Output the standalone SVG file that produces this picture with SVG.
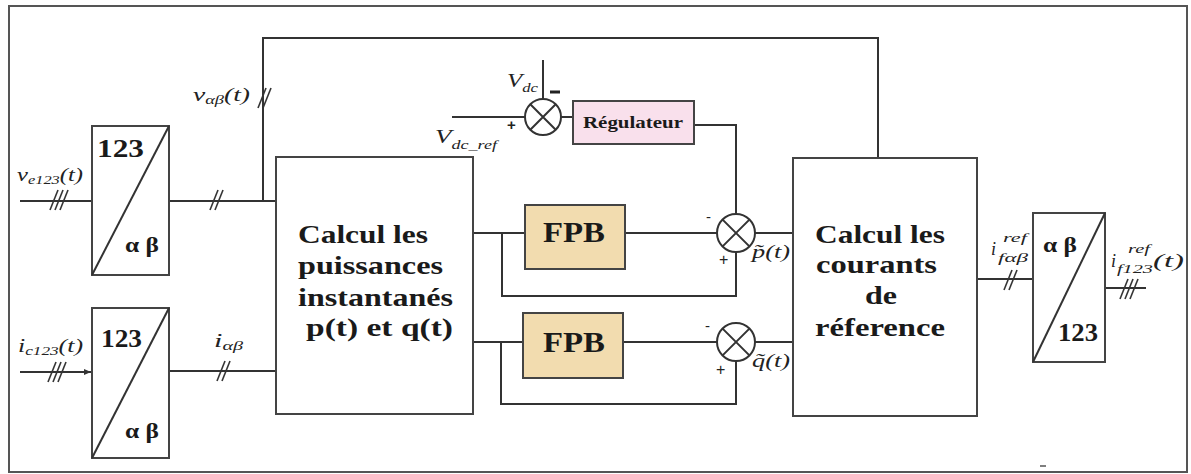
<svg xmlns="http://www.w3.org/2000/svg" width="1191" height="474" viewBox="0 0 1191 474">
<style>
.ln{fill:none;stroke:#333;stroke-width:2}
.bx{fill:#fff;stroke:#444;stroke-width:2}
.b{font-family:"Liberation Serif",serif;font-weight:bold;fill:#1a1a1a}
.m{font-family:"Liberation Serif",serif;font-style:italic;fill:#222;font-size:18px}
.s{font-size:12px}
.sg{font-family:"Liberation Sans",sans-serif;fill:#222}
</style>
<defs>
<g id="s3" stroke="#333" stroke-width="1.6"><line x1="-9" y1="10" x2="-1" y2="-10"/><line x1="-4" y1="10" x2="4" y2="-10"/><line x1="1" y1="10" x2="9" y2="-10"/></g>
<g id="s2" stroke="#333" stroke-width="1.6"><line x1="-7" y1="10" x2="1" y2="-10"/><line x1="-2" y1="10" x2="6" y2="-10"/></g>
<marker id="ar" markerWidth="8" markerHeight="8" refX="7" refY="4" orient="auto" markerUnits="userSpaceOnUse"><path d="M0,1 L7,4 L0,7 z" fill="#333"/></marker>
</defs>
<rect x="9" y="6" width="1178" height="466" fill="#fff" stroke="#555" stroke-width="2"/>
<line x1="1040" y1="466" x2="1046" y2="466" stroke="#555" stroke-width="1.5"/>

<g id="connectors">
<line class="ln" x1="20" y1="201" x2="92" y2="201"/>
<line class="ln" x1="20" y1="372" x2="91" y2="372" marker-end="url(#ar)"/>
<polyline class="ln" points="169,201 276,201"/>
<polyline class="ln" points="263,201 263,38 878,38 878,158"/>
<line class="ln" x1="169" y1="371" x2="276" y2="371"/>
<line class="ln" x1="543" y1="60" x2="543" y2="99"/>
<line class="ln" x1="452" y1="117" x2="525" y2="117"/>
<line class="ln" x1="561" y1="117" x2="573" y2="117"/>
<polyline class="ln" points="694,125 736,125 736,214"/>
<line class="ln" x1="473" y1="233" x2="525" y2="233"/>
<polyline class="ln" points="502,233 502,296 736,296 736,252"/>
<line class="ln" x1="625" y1="233" x2="717" y2="233"/>
<line class="ln" x1="755" y1="233" x2="793" y2="233"/>
<line class="ln" x1="473" y1="342" x2="523" y2="342"/>
<polyline class="ln" points="501,342 501,404 736,404 736,361"/>
<line class="ln" x1="623" y1="342" x2="717" y2="342"/>
<line class="ln" x1="755" y1="342" x2="793" y2="342"/>
<line class="ln" x1="977" y1="279" x2="1033" y2="279"/>
<line class="ln" x1="1105" y1="288" x2="1146" y2="288"/>
<use href="#s3" x="59" y="200"/>
<use href="#s3" x="57" y="372"/>
<use href="#s2" x="217" y="200"/>
<use href="#s2" x="224" y="371"/>
<use href="#s2" x="265" y="98"/>
<use href="#s2" x="1011" y="280"/>
<use href="#s3" x="1129" y="289"/>
</g>

<g id="labels">
<text class="m" x="17" y="181" textLength="66" lengthAdjust="spacingAndGlyphs">v<tspan class="s" dy="3">e123</tspan><tspan dy="-3">(t)</tspan></text>
<text class="m" x="18" y="352" textLength="65" lengthAdjust="spacingAndGlyphs">i<tspan class="s" dy="3">c123</tspan><tspan dy="-3">(t)</tspan></text>
<text class="m" x="193" y="101" textLength="57" lengthAdjust="spacingAndGlyphs">v<tspan class="s" dy="3">αβ</tspan><tspan dy="-3">(t)</tspan></text>
<text class="m" x="214" y="347" textLength="29" lengthAdjust="spacingAndGlyphs">i<tspan class="s" dy="3">αβ</tspan></text>
<text class="m" x="507" y="87" font-size="19" textLength="31" lengthAdjust="spacingAndGlyphs">V<tspan class="s" dy="5" font-size="13">dc</tspan></text>
<text class="m" x="435" y="143" font-size="19" textLength="62" lengthAdjust="spacingAndGlyphs">V<tspan class="s" dy="6" font-size="13">dc_ref</tspan></text>
<text class="m" x="991" y="255" font-size="17">i</text>
<text class="m s" x="1003" y="242" textLength="24" lengthAdjust="spacingAndGlyphs">ref</text>
<text class="m s" x="998" y="262" textLength="30" lengthAdjust="spacingAndGlyphs">fαβ</text>
<text class="m" x="1111" y="267" font-size="17">i</text>
<text class="m s" x="1128" y="253" textLength="22" lengthAdjust="spacingAndGlyphs">ref</text>
<text class="m s" x="1117" y="273" textLength="36" lengthAdjust="spacingAndGlyphs">f123</text>
<text class="m" x="1153" y="267" textLength="31" lengthAdjust="spacingAndGlyphs">(t)</text>
<text class="m" x="752" y="258" textLength="38" lengthAdjust="spacingAndGlyphs">p̃(t)</text>
<text class="m" x="752" y="367" textLength="38" lengthAdjust="spacingAndGlyphs">q̃(t)</text>
</g>

<g id="sum1">
<circle cx="543" cy="117" r="18" fill="#fff" stroke="#333" stroke-width="2"/>
<path d="M530.3,104.3 L555.7,129.7 M555.7,104.3 L530.3,129.7" stroke="#333" stroke-width="2"/>
<rect x="550" y="90.5" width="10" height="3" fill="#222"/>
<text class="sg" x="507" y="130" font-size="15" font-weight="bold">+</text>
</g>
<g id="sum2">
<circle cx="736" cy="233" r="19" fill="#fff" stroke="#333" stroke-width="2"/>
<path d="M722.6,219.6 L749.4,246.4 M749.4,219.6 L722.6,246.4" stroke="#333" stroke-width="2"/>
<text class="sg" x="706" y="222" font-size="15">-</text>
<text class="sg" x="719" y="265" font-size="16">+</text>
</g>
<g id="sum3">
<circle cx="736" cy="342" r="19" fill="#fff" stroke="#333" stroke-width="2"/>
<path d="M722.6,328.6 L749.4,355.4 M749.4,328.6 L722.6,355.4" stroke="#333" stroke-width="2"/>
<text class="sg" x="705" y="331" font-size="15">-</text>
<text class="sg" x="716" y="375" font-size="16">+</text>
</g>

<g id="conv1">
<rect class="bx" x="92" y="126" width="77" height="149"/>
<line x1="92" y1="275" x2="169" y2="126" stroke="#333" stroke-width="2"/>
<text class="b" x="97" y="157" font-size="25" textLength="47" lengthAdjust="spacingAndGlyphs">123</text>
<text class="b" x="125" y="252" font-size="21" textLength="34" lengthAdjust="spacingAndGlyphs">α β</text>
</g>
<g id="conv2">
<rect class="bx" x="92" y="308" width="77" height="150"/>
<line x1="92" y1="458" x2="169" y2="308" stroke="#333" stroke-width="2"/>
<text class="b" x="101" y="347" font-size="25" textLength="41" lengthAdjust="spacingAndGlyphs">123</text>
<text class="b" x="125" y="438" font-size="21" textLength="34" lengthAdjust="spacingAndGlyphs">α β</text>
</g>
<g id="puissances">
<rect class="bx" x="276" y="157" width="197" height="257"/>
<text class="b" font-size="25"><tspan x="298" y="243" textLength="130" lengthAdjust="spacingAndGlyphs">Calcul les</tspan><tspan x="298" y="274" textLength="145" lengthAdjust="spacingAndGlyphs">puissances</tspan><tspan x="298" y="306" textLength="155" lengthAdjust="spacingAndGlyphs">instantanés</tspan><tspan x="306" y="336" textLength="147" lengthAdjust="spacingAndGlyphs">p(t) et q(t)</tspan></text>
</g>
<g id="regulateur">
<rect x="573" y="101" width="121" height="43" fill="#f9e0ec" stroke="#444" stroke-width="2"/>
<text class="b" x="583" y="128" font-size="17" textLength="100" lengthAdjust="spacingAndGlyphs">Régulateur</text>
</g>
<g id="fpb1">
<rect x="525" y="205" width="100" height="64" fill="#f2dcaf" stroke="#444" stroke-width="2"/>
<text class="b" x="543" y="242" font-size="29" textLength="62" lengthAdjust="spacingAndGlyphs">FPB</text>
</g>
<g id="fpb2">
<rect x="523" y="313" width="100" height="65" fill="#f2dcaf" stroke="#444" stroke-width="2"/>
<text class="b" x="543" y="352" font-size="29" textLength="62" lengthAdjust="spacingAndGlyphs">FPB</text>
</g>
<g id="courants">
<rect class="bx" x="793" y="158" width="184" height="258"/>
<text class="b" font-size="26"><tspan x="815" y="243" textLength="130" lengthAdjust="spacingAndGlyphs">Calcul les</tspan><tspan x="816" y="273" textLength="121" lengthAdjust="spacingAndGlyphs">courants</tspan><tspan x="865" y="304" textLength="32" lengthAdjust="spacingAndGlyphs">de</tspan><tspan x="815" y="336" textLength="130" lengthAdjust="spacingAndGlyphs">réference</tspan></text>
</g>
<g id="conv3">
<rect class="bx" x="1033" y="213" width="72" height="149"/>
<line x1="1033" y1="362" x2="1105" y2="213" stroke="#333" stroke-width="2"/>
<text class="b" x="1043" y="252" font-size="21" textLength="34" lengthAdjust="spacingAndGlyphs">α β</text>
<text class="b" x="1058" y="341" font-size="25" textLength="40" lengthAdjust="spacingAndGlyphs">123</text>
</g>
</svg>
